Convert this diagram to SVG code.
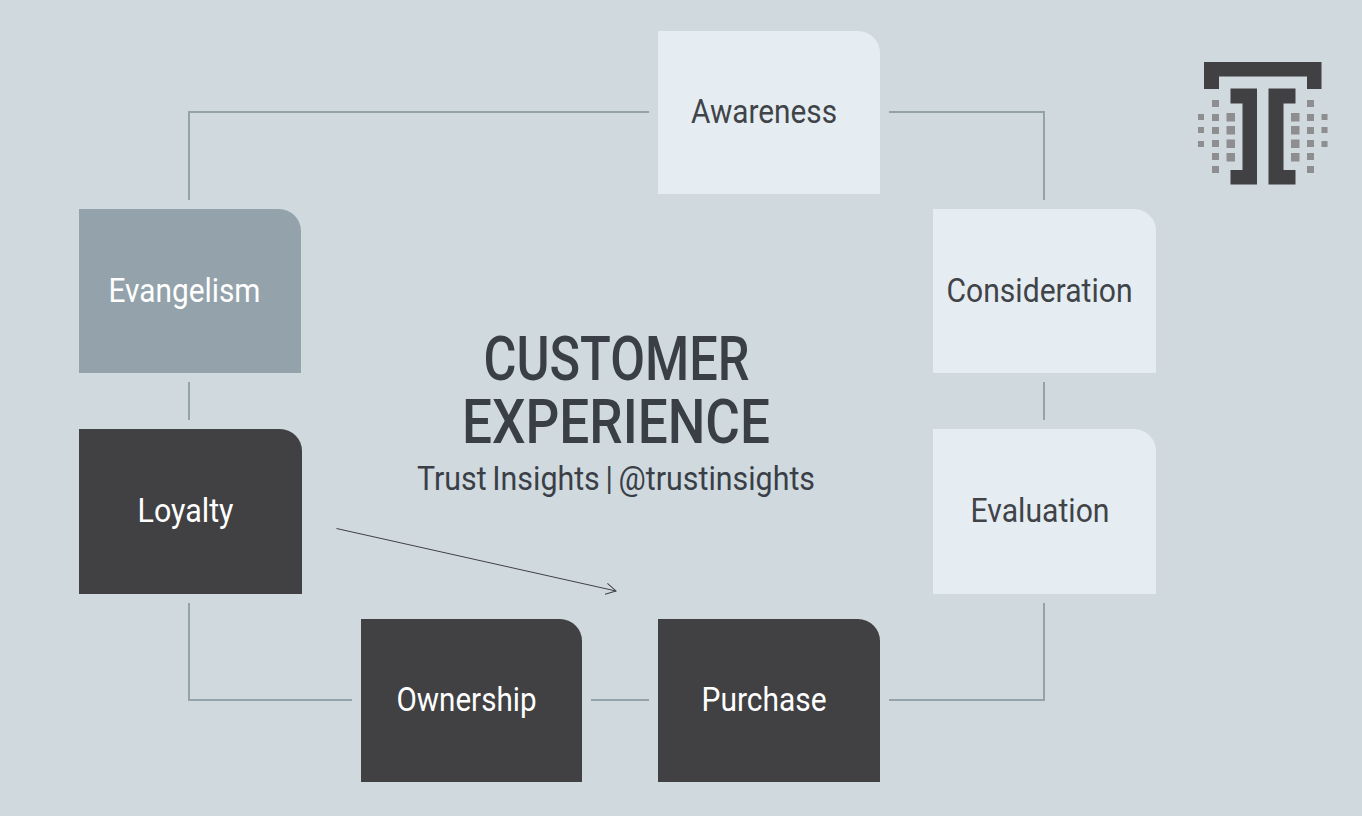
<svg xmlns="http://www.w3.org/2000/svg" width="1362" height="816" viewBox="0 0 1362 816">
<defs>
<marker id="open" markerUnits="userSpaceOnUse" markerWidth="16" markerHeight="16" refX="13" refY="8" orient="auto"><path d="M3 2.500L13 8L3 13.500" fill="none" stroke="#414143" stroke-width="1"/></marker>
</defs>
<style>
text{font-family:"Roboto","Liberation Sans",sans-serif;text-anchor:middle}
.lbl{font-size:33.500px}
.dk{fill:#3a3f47}
.lk{fill:#404347}
.wh{fill:#fff}
.light{fill:#e5edf2}
.dark{fill:#414143}
.mid{fill:#94a3ab}
.c{fill:none;stroke:#94a3aa;stroke-width:2}
.g{fill:#8e8e90}
</style>
<rect width="1362" height="816" fill="#d0d9de"/>
<g id="connectors">
<path class="c" d="M649 112H189V200"/>
<path class="c" d="M889 112H1044V200"/>
<path class="c" d="M189 382V420"/>
<path class="c" d="M1044 382V420"/>
<path class="c" d="M189 603V700H352"/>
<path class="c" d="M591 700H649"/>
<path class="c" d="M1044 603V700H889"/>
<path d="M336.500 528.500L616 591" fill="none" stroke="#414143" stroke-width="1" marker-end="url(#open)"/>
</g>
<g id="awareness"><path class="light" d="M658 31H858a22 22 0 0 1 22 22V194H658Z"/><text class="lbl lk" x="764" y="122.500" textLength="146" lengthAdjust="spacingAndGlyphs">Awareness</text></g>
<g id="consideration"><path class="light" d="M933 209H1134a22 22 0 0 1 22 22V373H933Z"/><text class="lbl lk" x="1039.500" y="301.500" textLength="186" lengthAdjust="spacingAndGlyphs">Consideration</text></g>
<g id="evaluation"><path class="light" d="M933 429H1134a22 22 0 0 1 22 22V594H933Z"/><text class="lbl lk" x="1040" y="521.500" textLength="139" lengthAdjust="spacingAndGlyphs">Evaluation</text></g>
<g id="purchase"><path class="dark" d="M658 619H858a22 22 0 0 1 22 22V782H658Z"/><text class="lbl wh" x="764" y="710.500" textLength="125" lengthAdjust="spacingAndGlyphs">Purchase</text></g>
<g id="ownership"><path class="dark" d="M361 619H560a22 22 0 0 1 22 22V782H361Z"/><text class="lbl wh" x="466.500" y="710.500" textLength="140" lengthAdjust="spacingAndGlyphs">Ownership</text></g>
<g id="loyalty"><path class="dark" d="M79 429H280a22 22 0 0 1 22 22V594H79Z"/><text class="lbl wh" x="185.500" y="521.500" textLength="96" lengthAdjust="spacingAndGlyphs">Loyalty</text></g>
<g id="evangelism"><path class="mid" d="M79 209H279a22 22 0 0 1 22 22V373H79Z"/><text class="lbl wh" x="184.500" y="301.500" textLength="152" lengthAdjust="spacingAndGlyphs">Evangelism</text></g>
<g id="title">
<text class="dk" x="616.500" y="380" font-size="61" font-weight="500" textLength="266" lengthAdjust="spacingAndGlyphs">CUSTOMER</text>
<text class="dk" x="616" y="442.500" font-size="61" font-weight="500" textLength="308" lengthAdjust="spacingAndGlyphs">EXPERIENCE</text>
<text class="dk" x="616" y="489.500" font-size="33" word-spacing="-2" textLength="398" lengthAdjust="spacingAndGlyphs">Trust Insights | @trustinsights</text>
</g>
<g id="logo">
<path class="dark" d="M1204 62H1321.500V89H1307V76.500H1219V89H1204Z"/>
<path class="dark" d="M1230.500 88.500H1257V184.500H1230.500V170H1242.500V103.500H1230.500Z"/>
<path class="dark" d="M1268.500 88.500H1295.500V103.500H1283.500V170H1295.500V184.500H1268.500Z"/>
<g class="g">
<rect x="1212" y="100" width="7" height="7"/>
<rect x="1198" y="114" width="6" height="6"/><rect x="1212" y="114" width="7" height="7"/><rect x="1226.500" y="113" width="8.500" height="8.500"/>
<rect x="1198" y="127" width="6" height="6"/><rect x="1212" y="127" width="7" height="7"/><rect x="1226.500" y="126" width="8.500" height="8.500"/>
<rect x="1198" y="141" width="6" height="6"/><rect x="1212" y="140" width="7" height="7"/><rect x="1226.500" y="139.500" width="8.500" height="8.500"/>
<rect x="1212" y="153" width="7" height="7"/><rect x="1226.500" y="153" width="8.500" height="8.500"/>
<rect x="1212" y="166" width="7" height="7"/>
<rect x="1307" y="100" width="7" height="7"/>
<rect x="1321.500" y="114" width="6" height="6"/><rect x="1307" y="114" width="7" height="7"/><rect x="1291" y="113" width="8.500" height="8.500"/>
<rect x="1321.500" y="127" width="6" height="6"/><rect x="1307" y="127" width="7" height="7"/><rect x="1291" y="126" width="8.500" height="8.500"/>
<rect x="1321.500" y="141" width="6" height="6"/><rect x="1307" y="140" width="7" height="7"/><rect x="1291" y="139.500" width="8.500" height="8.500"/>
<rect x="1307" y="153" width="7" height="7"/><rect x="1291" y="153" width="8.500" height="8.500"/>
<rect x="1307" y="166" width="7" height="7"/>
</g>
</g>
</svg>
